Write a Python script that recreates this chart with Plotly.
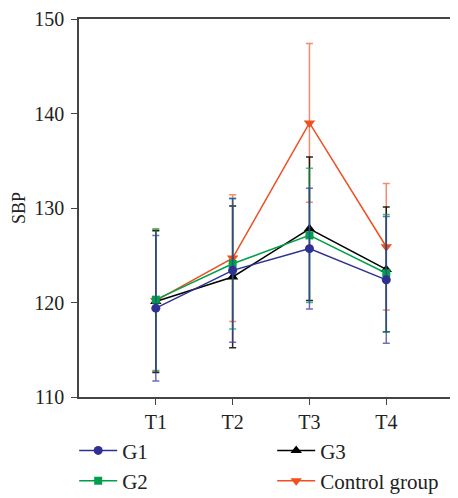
import plotly.graph_objects as go

categories = ["T1", "T2", "T3", "T4"]
x_pos = [1, 2, 3, 4]

g1 = [119.4, 123.4, 125.7, 122.4]
g1_err = [7.7, 7.6, 6.4, 6.7]
g2 = [120.3, 124.1, 127.1, 123.1]
g2_err = [7.5, 6.9, 7.1, 6.2]
g3 = [120.1, 122.7, 127.8, 123.5]
g3_err = [7.5, 7.5, 7.6, 6.6]
ctrl = [120.2, 124.7, 139.0, 125.9]
ctrl_err = [7.5, 6.7, 8.4, 6.7]

series = [
    ("Control group", ctrl, ctrl_err, "#f04e23", "rgba(240,90,50,0.7)", "triangle-down", 10, 4),
    ("G3", g3, g3_err, "#000000", "rgba(0,0,0,0.85)", "triangle-up", 10, 2),
    ("G2", g2, g2_err, "#00a04a", "rgba(0,160,74,0.7)", "square", 8, 3),
    ("G1", g1, g1_err, "#2e3192", "rgba(60,60,160,0.75)", "circle", 9, 1),
]

SERIF = "Liberation Serif, Times New Roman, Tinos, DejaVu Serif, serif"

fig = go.Figure()
for name, vals, err, col, ecol, sym, size, rank in series:
    fig.add_trace(go.Scatter(
        x=x_pos, y=vals, name=name, mode="lines+markers",
        line=dict(color=col, width=1.5),
        marker=dict(symbol=sym, size=size, color=col, line=dict(width=0)),
        error_y=dict(type="data", array=err, visible=True, color=ecol,
                     thickness=1.5, width=3.5),
        legendrank=rank,
    ))

fig.update_layout(
    width=472, height=500,
    margin=dict(l=71, r=0, t=7, b=111),
    plot_bgcolor="white", paper_bgcolor="white",
    font=dict(family=SERIF, size=17, color="#222"),
    showlegend=True,
    legend=dict(orientation="h", x=-0.012, xanchor="left", y=-0.088, yanchor="top",
                entrywidth=145, font=dict(family=SERIF, size=21), traceorder="normal",
                bgcolor="rgba(0,0,0,0)", itemwidth=38, tracegroupgap=0),
    xaxis=dict(range=[0, 5.22], tickvals=x_pos, ticktext=categories,
               showline=True, linecolor="#444", linewidth=1.5, mirror=True,
               ticks="outside", ticklen=6, tickcolor="#444", showgrid=False,
               zeroline=False, tickfont=dict(family=SERIF, size=20)),
    yaxis=dict(range=[110, 150], tickvals=[110, 120, 130, 140, 150],
               showline=True, linecolor="#444", linewidth=1.5,
               ticks="outside", ticklen=6, tickcolor="#444", showgrid=False,
               zeroline=False, tickfont=dict(family=SERIF, size=20),
               ticklabeloverflow="allow", ticklabelstandoff=3,
               title=dict(text="SBP", standoff=4, font=dict(family=SERIF, size=18))),
)

fig.write_html("out.html")
